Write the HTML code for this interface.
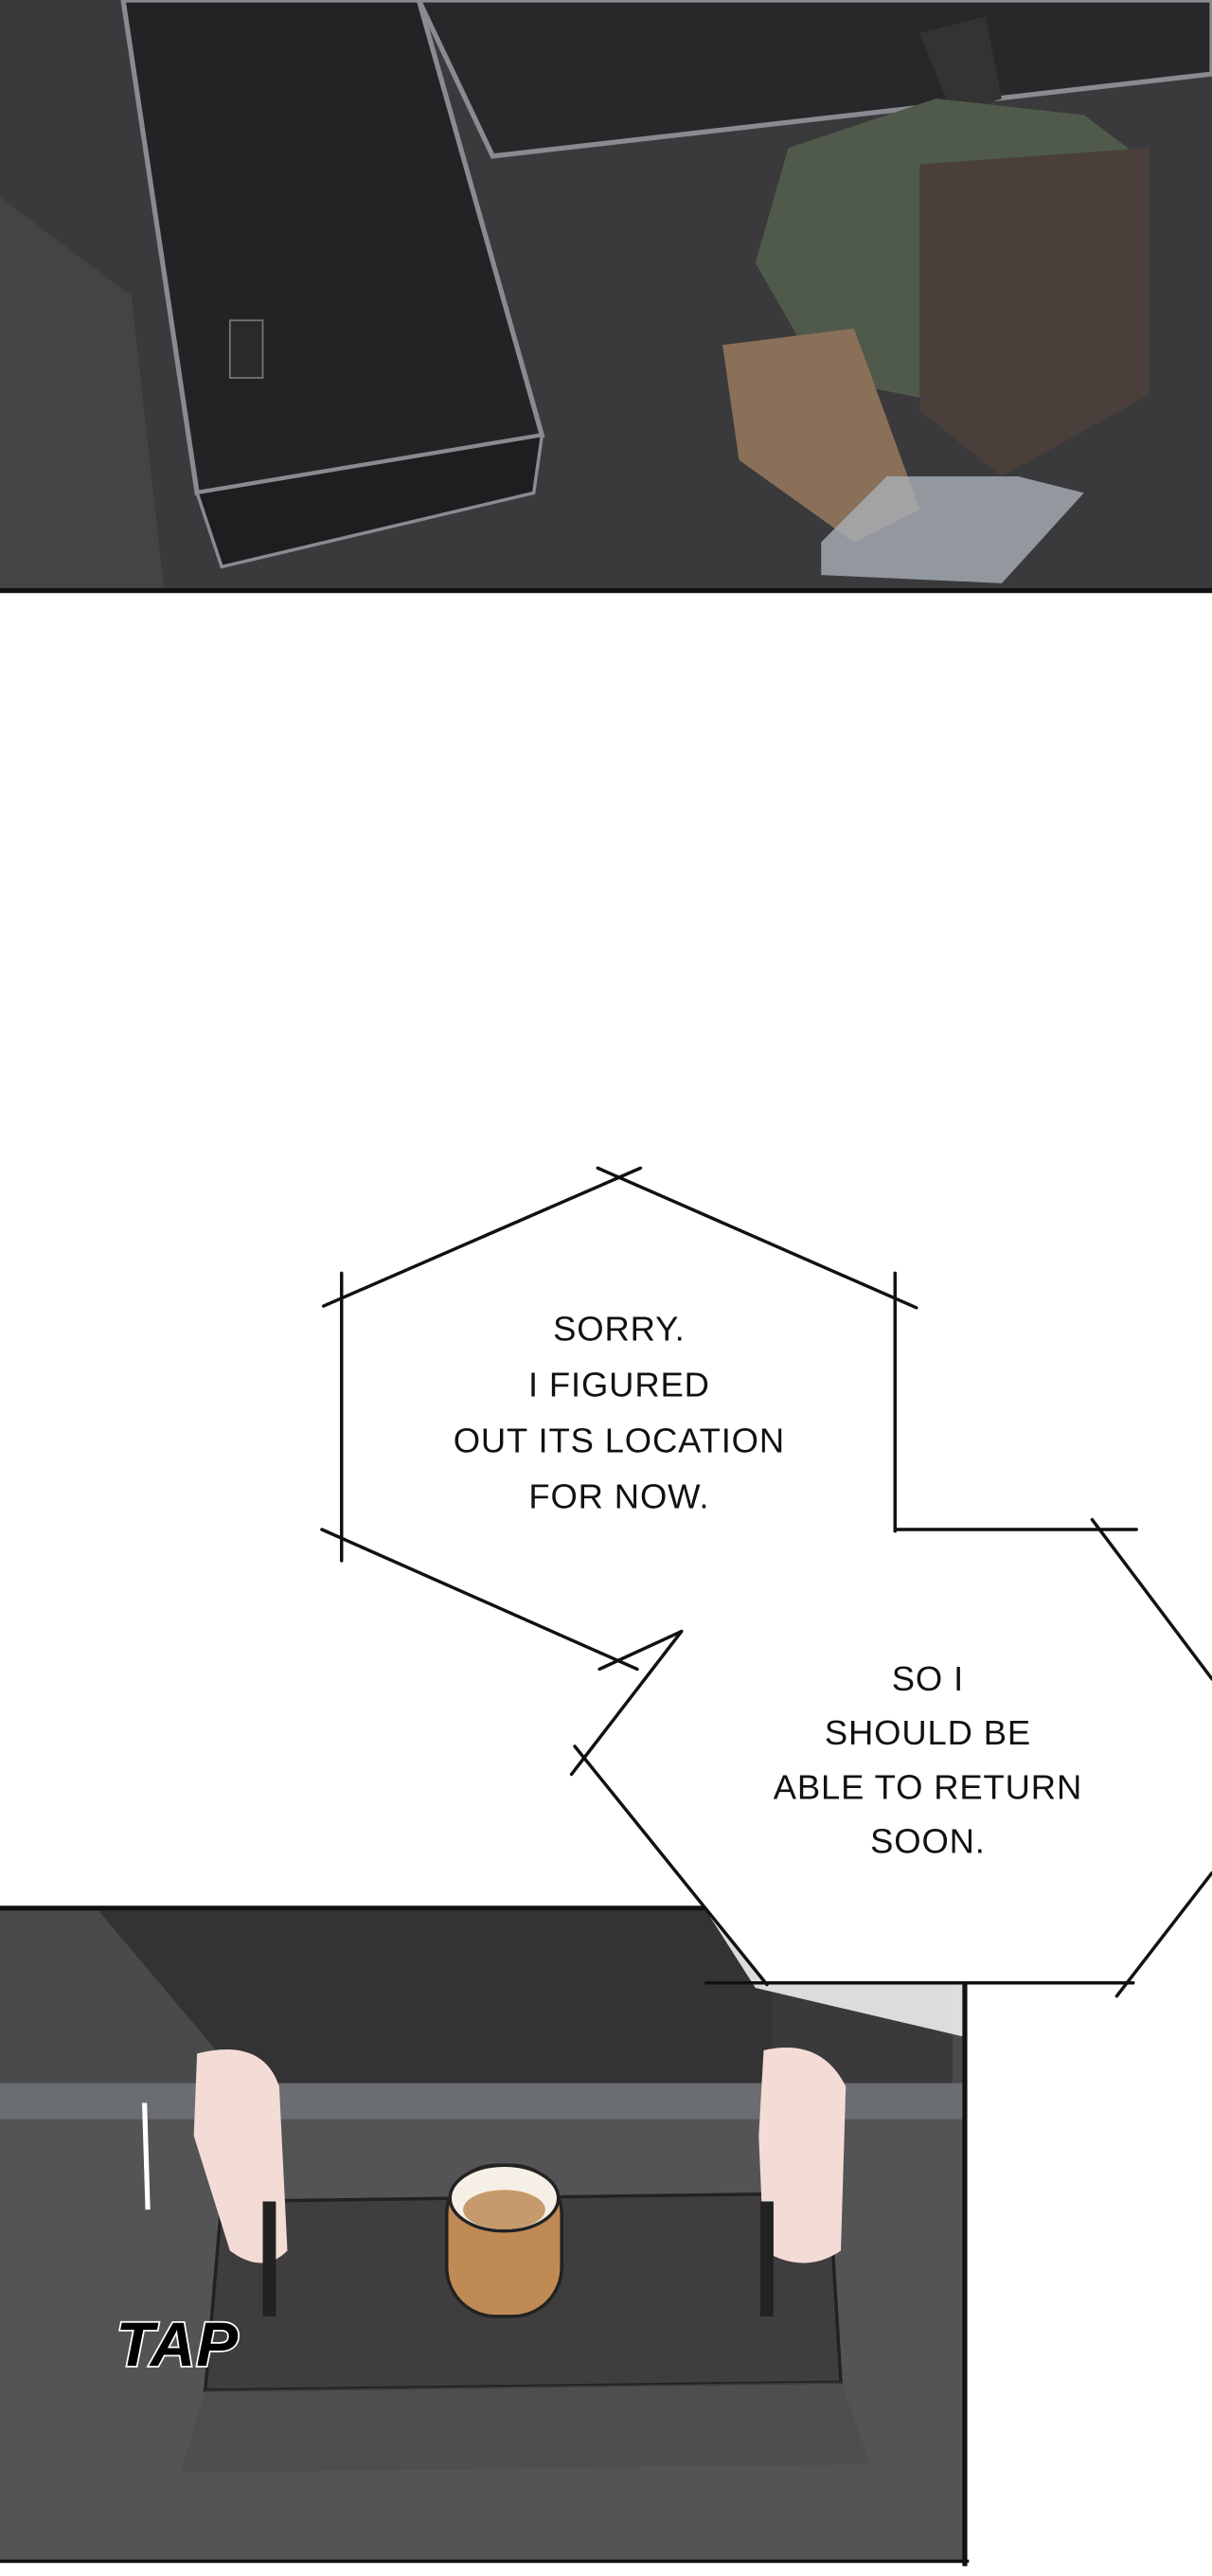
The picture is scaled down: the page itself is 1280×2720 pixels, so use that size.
<!DOCTYPE html>
<html><head><meta charset="utf-8"><style>
html,body{margin:0;padding:0;background:#fff;width:1280px;height:2720px;overflow:hidden}
svg{display:block}
text{font-family:"Liberation Sans",sans-serif;font-size:21px;fill:#111;text-anchor:middle;letter-spacing:0.5px}
</style></head><body>
<svg width="1280" height="2720" viewBox="0 0 738 1568" preserveAspectRatio="none">
<!-- top panel -->
<rect x="0" y="0" width="738" height="360" fill="#3b3b3e"/>
<polygon points="0,0 260,0 330,100 320,0 738,0 738,360 0,360" fill="#3a3a3d"/>
<polygon points="75,0 255,0 330,265 120,300" fill="#232325" stroke="#8a8a90" stroke-width="3"/>
<polygon points="120,300 330,265 325,300 135,345" fill="#1e1e20" stroke="#8a8a90" stroke-width="2"/>
<polygon points="255,0 738,0 738,45 300,95" fill="#28282a" stroke="#8a8a90" stroke-width="3"/>
<polygon points="0,120 80,180 100,360 0,360" fill="#444447"/>
<rect x="140" y="195" width="20" height="35" fill="#2a2a2c" stroke="#777" stroke-width="1"/>
<!-- person -->
<polygon points="560,20 600,10 610,60 580,70" fill="#333"/>
<polygon points="480,90 570,60 660,70 700,100 690,200 600,250 500,230 460,160" fill="#505a4a"/>
<polygon points="440,210 520,200 560,310 520,330 450,280" fill="#8a7058"/>
<polygon points="560,100 700,90 700,240 610,290 560,250" fill="#4a3f3a"/>
<polygon points="500,330 540,290 620,290 660,300 610,355 500,350" fill="#aab0b8" opacity="0.8"/>
<rect x="0" y="358" width="738" height="3" fill="#111"/>
<!-- bottom panel -->
<rect x="0" y="1163" width="588" height="397" fill="#59585a"/>
<rect x="0" y="1163" width="588" height="110" fill="#4a4a4c"/>
<polygon points="60,1163 470,1163 470,1270 150,1270" fill="#333234"/>
<polygon points="470,1163 580,1163 580,1270 470,1270" fill="#3a3a3c"/>
<rect x="0" y="1268" width="588" height="22" fill="#6a6d72"/>
<rect x="0" y="1290" width="588" height="270" fill="#545355"/>
<polygon points="135,1340 505,1335 512,1450 125,1455" fill="#3f3d3e" stroke="#222" stroke-width="2"/>
<polygon points="125,1455 512,1450 530,1500 110,1505" fill="#4b4a4c" opacity="0.6"/>
<path d="M120,1250 Q160,1240 170,1270 L175,1370 Q160,1385 140,1370 L118,1300 Z" fill="#f3dcd5"/>
<path d="M465,1248 Q500,1240 515,1270 L512,1370 Q490,1385 465,1370 L462,1300 Z" fill="#f3dcd5"/>
<rect x="160" y="1340" width="8" height="70" fill="#222"/>
<rect x="463" y="1340" width="8" height="70" fill="#222"/>
<rect x="272" y="1318" width="70" height="92" rx="30" fill="#c08a55" stroke="#222" stroke-width="2"/>
<ellipse cx="307" cy="1338" rx="33" ry="20" fill="#f6efe6" stroke="#222" stroke-width="2"/>
<ellipse cx="307" cy="1345" rx="25" ry="12" fill="#c69a6c"/>
<polygon points="430,1163 588,1163 588,1240 460,1210" fill="#eeeeee" opacity="0.9"/>
<text x="108" y="1440" style="font-size:38px;font-style:italic;font-weight:bold;fill:#000;stroke:#fff;stroke-width:2;paint-order:stroke">TAP</text>
<path d="M88,1280 L90,1345" stroke="#fff" stroke-width="3"/>
<rect x="0" y="1160" width="590" height="3" fill="#111"/>
<rect x="586" y="1160" width="3" height="402" fill="#111"/>
<rect x="0" y="1558" width="590" height="2" fill="#111"/>
<!-- bubble 2 fill -->
<polygon points="545,930 665,930 738,1020 738,1140 690,1207 465,1207 355,1070 415,993" fill="#fff"/>
<!-- bubble 1 -->
<polygon points="208,790 375,715 545,790 545,930 415,993 390,1010 208,930" fill="#fff"/>
<g stroke="#111" stroke-width="2" fill="none" stroke-linecap="round">
<line x1="197" y1="795" x2="390" y2="711"/>
<line x1="364" y1="711" x2="558" y2="796"/>
<line x1="208" y1="775" x2="208" y2="950"/>
<line x1="545" y1="775" x2="545" y2="932"/>
<line x1="545" y1="931" x2="692" y2="931"/>
<line x1="196" y1="931" x2="388" y2="1016"/>
<line x1="365" y1="1016" x2="415" y2="993"/>
<line x1="415" y1="993" x2="348" y2="1080"/>
<line x1="665" y1="925" x2="738" y2="1022"/>
<line x1="350" y1="1063" x2="467" y2="1208"/>
<line x1="430" y1="1207" x2="690" y2="1207"/>
<line x1="680" y1="1215" x2="738" y2="1140"/>
</g>
<text x="377" y="816">SORRY.</text>
<text x="377" y="850">I FIGURED</text>
<text x="377" y="884">OUT ITS LOCATION</text>
<text x="377" y="918">FOR NOW.</text>
<text x="565" y="1029">SO I</text>
<text x="565" y="1062">SHOULD BE</text>
<text x="565" y="1095">ABLE TO RETURN</text>
<text x="565" y="1128">SOON.</text>
</svg>
</body></html>
